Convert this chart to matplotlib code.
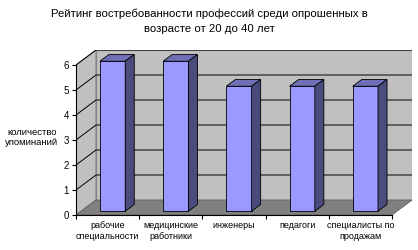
import numpy as np
import matplotlib.pyplot as plt
from matplotlib.patches import Polygon

plt.rcParams['font.family'] = ['Liberation Sans', 'DejaVu Sans']

# data
categories = ['рабочие\nспециальности', 'медицинские\nработники', 'инженеры',
              'педагоги', 'специалисты по\nпродажам']
values = [6, 6, 5, 5, 5]
title = 'Рейтинг востребованности профессий среди опрошенных в\nвозрасте от 20 до 40 лет'
ylabel = 'количество\nупоминаний'
ymax = 6

# 3d look: depth offset of the back wall in data units
n = len(categories)
dx, dy = 0.317, 0.6
bar_w = 0.40
d0, d1 = 0.25, 0.70   # front / back plane of bars as fraction of depth

fig = plt.figure(figsize=(4.18, 2.5), dpi=100)
ax = fig.add_axes([76 / 418, 35 / 250, 336 / 418, 165 / 250])
ax.set_xlim(0, n + dx)
ax.set_ylim(0, ymax + dy)

# walls and floor
ax.add_patch(Polygon([(0, 0), (dx, dy), (dx, ymax + dy), (0, ymax)],
                     fc='#c0c0c0', ec='#808080', lw=0.8, zorder=0))
ax.add_patch(Polygon([(dx, dy), (n + dx, dy), (n + dx, ymax + dy), (dx, ymax + dy)],
                     fc='#c0c0c0', ec='#808080', lw=0.8, zorder=0))
ax.add_patch(Polygon([(0, 0), (n, 0), (n + dx, dy), (dx, dy)],
                     fc='#808080', ec='#606060', lw=0.6, zorder=1))

# gridlines
for v in range(1, ymax + 1):
    ax.plot([0, dx, n + dx], [v, v + dy, v + dy], color='black', lw=0.7, zorder=0.5)

# bars
x = np.arange(n) + 0.5
xf = x + d0 * dx
yb = d0 * dy
ax.bar(xf, values, bottom=yb, width=bar_w, color='#9999ff', edgecolor='black',
       lw=0.6, zorder=3)
ox, oy = (d1 - d0) * dx, (d1 - d0) * dy
for xi, v in zip(xf, values):
    l, r, t = xi - bar_w / 2, xi + bar_w / 2, yb + v
    ax.add_patch(Polygon([(l, t), (r, t), (r + ox, t + oy), (l + ox, t + oy)],
                         fc='#6f6fb5', ec='black', lw=0.6, zorder=3))
    ax.add_patch(Polygon([(r, yb), (r + ox, yb + oy), (r + ox, t + oy), (r, t)],
                         fc='#4b4b7e', ec='black', lw=0.6, zorder=3))

# axes
for s in ['top', 'right']:
    ax.spines[s].set_visible(False)
ax.spines['left'].set_bounds(0, ymax)
ax.spines['bottom'].set_bounds(0, n)
ax.spines['left'].set_linewidth(0.8)
ax.spines['bottom'].set_linewidth(0.8)
ax.set_yticks(range(0, ymax + 1))
ax.tick_params(axis='y', direction='out', length=3, width=0.8, labelsize=7, pad=2)
ax.set_xticks(range(0, n + 1))
ax.set_xticklabels([])
ax.set_xticks(x, minor=True)
ax.set_xticklabels(categories, minor=True, fontsize=6.5, linespacing=1.3)
ax.tick_params(axis='x', which='major', direction='out', length=3, width=0.8)
ax.tick_params(axis='x', which='minor', length=0, pad=4)

ax.set_ylabel(ylabel, rotation=0, fontsize=6.8, ha='center', va='center', linespacing=1.2)
ax.yaxis.set_label_coords(-0.132, 0.47)

fig.text(0.502, 0.965, title, ha='center', va='top', fontsize=8.2, linespacing=1.55)

fig.savefig('out.png', dpi=100)
